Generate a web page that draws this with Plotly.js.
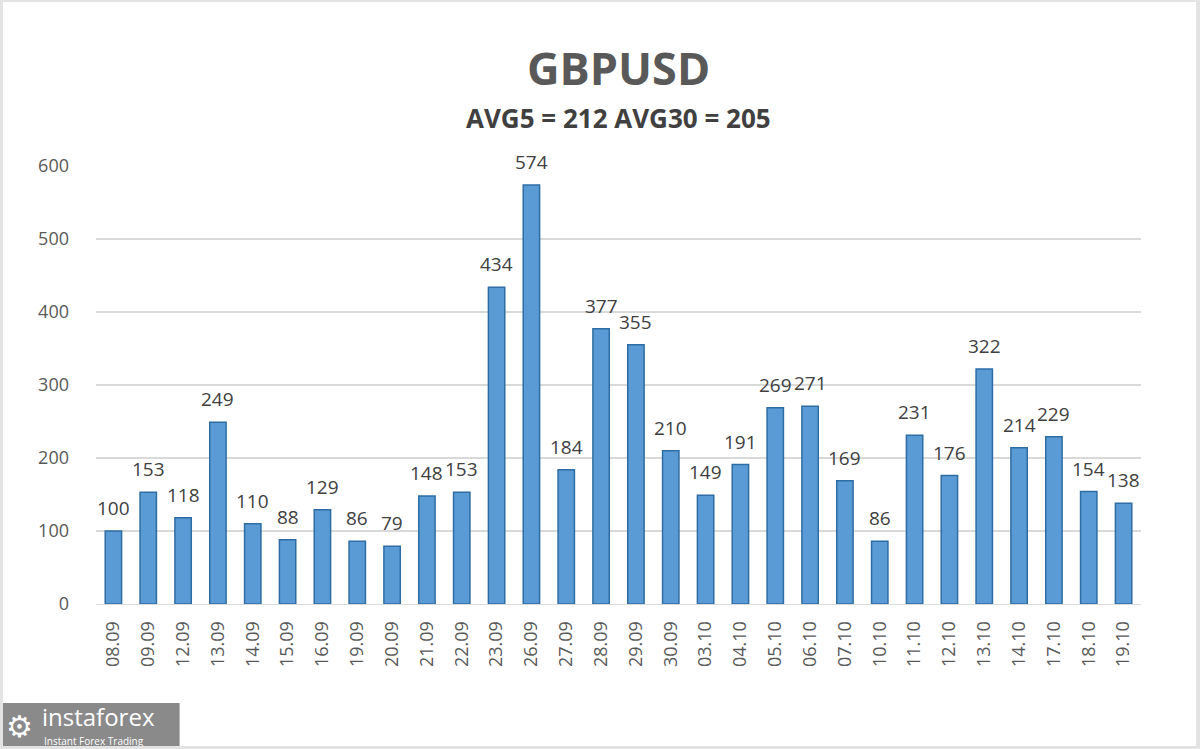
<!DOCTYPE html>
<html>
<head>
<meta charset="utf-8">
<script src="https://cdn.plot.ly/plotly-3.0.1.min.js"></script>
<style>
  html, body { margin: 0; padding: 0; background: #fff; }
  #wrap { position: relative; width: 1200px; height: 749px; }
  #chart { width: 1200px; height: 749px; }
  #frame { position: absolute; left: 0; top: 0; width: 1200px; height: 749px; box-sizing: border-box;
           border-top: 2px solid #e3e3e3; border-left: 3px solid #e3e3e3; border-right: 4px solid #e3e3e3; border-bottom: 3px solid #e3e3e3; pointer-events: none; }
</style>
</head>
<body>
<div id="wrap">
  <div id="chart"></div>
  <div id="frame"></div>
</div>
<script>
const dates = ["08.09","09.09","12.09","13.09","14.09","15.09","16.09","19.09","20.09","21.09","22.09","23.09","26.09","27.09","28.09","29.09","30.09","03.10","04.10","05.10","06.10","07.10","10.10","11.10","12.10","13.10","14.10","17.10","18.10","19.10"];
const values = [100,153,118,249,110,88,129,86,79,148,153,434,574,184,377,355,210,149,191,269,271,169,86,231,176,322,214,229,154,138];
const titleText = "GBPUSD";
const subtitleText = "AVG5 = 212 AVG30 = 205";
const yTicks = [0,100,200,300,400,500,600];

const FONT = "Open Sans, Noto Sans, sans-serif";

const trace = {
  type: "bar",
  x: dates,
  y: values,
  width: 0.47,
  marker: {
    color: "#5b9bd5",
    line: { color: "#2e6da4", width: 1.5 }
  },
  hoverinfo: "x+y"
};

// value labels placed by the axis scales (category index), a little above each bar top
const valueLabels = dates.map((d, i) => ({
  x: i, y: values[i], xref: "x", yref: "y",
  text: String(values[i]), showarrow: false,
  xanchor: "center", yanchor: "bottom", yshift: 8,
  font: { family: FONT, size: 19, color: "#404040" }
}));

const layout = {
  width: 1200,
  height: 749,
  margin: { l: 96, r: 59, t: 166, b: 145 },
  paper_bgcolor: "#ffffff",
  plot_bgcolor: "#ffffff",
  showlegend: false,
  font: { family: FONT, color: "#595959" },
  xaxis: {
    type: "category",
    categoryorder: "array",
    categoryarray: dates,
    range: [-0.5, dates.length - 0.5],
    tickangle: -90,
    tickfont: { family: FONT, size: 18, color: "#595959" },
    showgrid: false,
    showline: true,
    linecolor: "#d9d9d9",
    linewidth: 1,
    ticks: "",
    ticklabelstandoff: 9
  },
  yaxis: {
    range: [0, 600],
    tickvals: yTicks,
    ticktext: yTicks.map(String),
    tickfont: { family: FONT, size: 18, color: "#595959" },
    showgrid: true,
    gridcolor: "#d9d9d9",
    gridwidth: 1.5,
    zeroline: false,
    showline: false,
    ticks: "",
    ticklabelstandoff: 26
  },
  annotations: valueLabels.concat([
    { text: "<b>" + titleText + "</b>", xref: "paper", yref: "paper", x: 0.5, y: 1, yshift: 99,
      xanchor: "center", yanchor: "middle", showarrow: false,
      font: { family: FONT, size: 45, color: "#595959" } },
    { text: "<b>" + subtitleText + "</b>", xref: "paper", yref: "paper", x: 0.5, y: 1, yshift: 48,
      xanchor: "center", yanchor: "middle", showarrow: false,
      font: { family: FONT, size: 26, color: "#404040" } },
    { text: "instaforex", xref: "paper", yref: "paper", x: -0.054, y: 0, yshift: -112,
      xanchor: "left", yanchor: "middle", showarrow: false,
      font: { family: FONT, size: 24, color: "#ffffff" } },
    { text: "Instant Forex Trading", xref: "paper", yref: "paper", x: -0.052, y: 0, yshift: -137,
      xanchor: "left", yanchor: "middle", showarrow: false,
      font: { family: FONT, size: 10, color: "#ffffff" } },
    { text: "⚙", xref: "paper", yref: "paper", x: -0.088, y: 0, yshift: -122,
      xanchor: "left", yanchor: "middle", showarrow: false,
      font: { family: "DejaVu Sans", size: 30, color: "#ffffff" } }
  ]),
  shapes: [
    { type: "rect", xref: "paper", yref: "paper", x0: -0.092, x1: 0.08, y0: 0, y1: 0,
      ysizemode: "pixel", yanchor: 0,
      fillcolor: "#8a8a8a", line: { width: 0 }, layer: "below" }
  ]
};

layout.shapes[0].y0 = -145;
layout.shapes[0].y1 = -99;

Plotly.newPlot("chart", [trace], layout, { displayModeBar: false, staticPlot: true });
</script>
</body>
</html>
